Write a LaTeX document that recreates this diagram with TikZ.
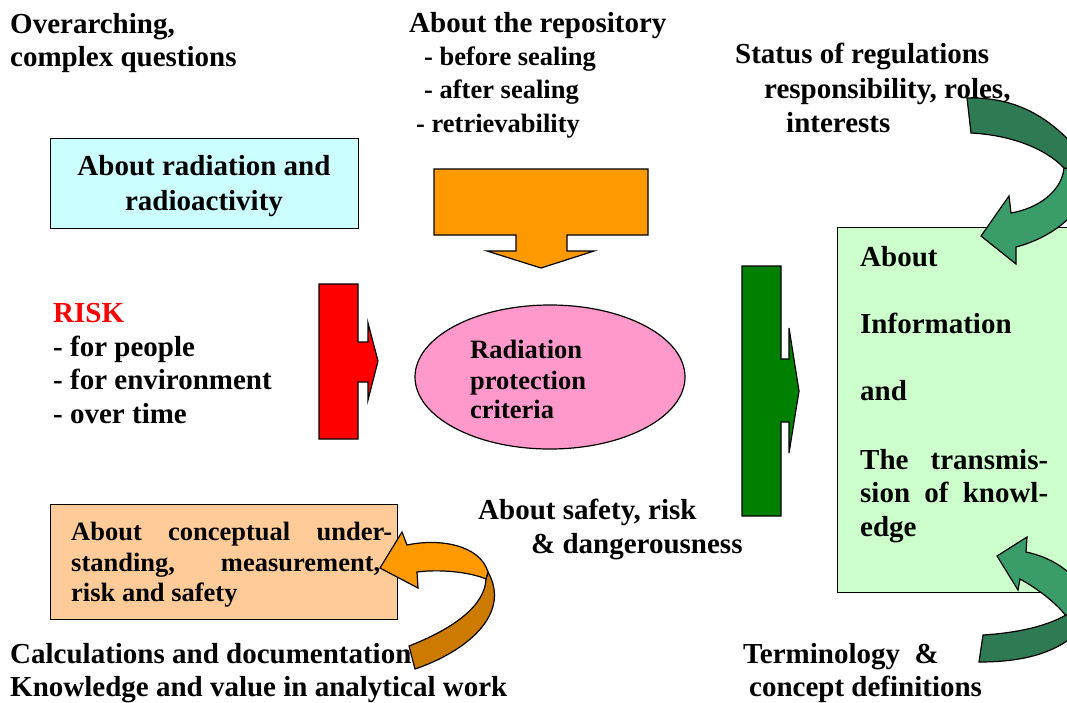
\documentclass[tikz,border=0pt]{standalone}
\usepackage{fontspec}
\setmainfont{Liberation Serif}
\usetikzlibrary{shapes.geometric}
\definecolor{cyanbox}{HTML}{CCFFFF}
\definecolor{greenbox}{HTML}{CCFFCC}
\definecolor{peach}{HTML}{FFCC99}
\definecolor{pinkel}{HTML}{FF99CC}
\definecolor{orangeA}{HTML}{FF9900}
\definecolor{orangeB}{HTML}{CC7A00}
\definecolor{greenA}{HTML}{008000}
\definecolor{tealA}{HTML}{3A9C68}
\definecolor{tealB}{HTML}{2E7B53}
\begin{document}
\begin{tikzpicture}[x=1pt,y=-1pt,
  big/.style={font=\fontsize{29}{33.5}\selectfont\bfseries, anchor=base west, inner sep=0pt},
  mid/.style={font=\fontsize{26.5}{30}\selectfont\bfseries, anchor=base west, inner sep=0pt},
  boxed/.style={draw=black, line width=1.2pt, inner sep=0pt, anchor=north west},
  blockshape/.style={draw=black, line width=1.2pt, line join=miter}]
\useasboundingbox (0,0) rectangle (1067,702);
\clip (0,0) rectangle (1067,702);

% boxes
\node[boxed, fill=cyanbox, minimum width=308pt, minimum height=90pt] (rad) at (50,138) {};
\node[boxed, fill=greenbox, minimum width=260pt, minimum height=365pt] (info) at (837,227) {};
\node[boxed, fill=peach, minimum width=347pt, minimum height=115pt] (concept) at (50,504) {};
\node[draw=black, line width=1.2pt, ellipse, fill=pinkel, minimum width=270pt, minimum height=144pt, inner sep=0pt] (crit) at (550,377) {};

% block arrows
\filldraw[blockshape, fill=orangeA] (434,169) -- (648,169) -- (648,235) -- (567,235) -- (567,251) -- (594,251) -- (541,268) -- (487,251) -- (516,251) -- (516,235) -- (434,235) -- cycle;
\filldraw[blockshape, fill=red] (319,284) -- (358,284) -- (358,342) -- (368,342) -- (368,323) -- (378,361) -- (368,400) -- (368,382) -- (358,382) -- (358,439) -- (319,439) -- cycle;
\filldraw[blockshape, fill=greenA] (742,266) -- (781,266) -- (781,359) -- (789,359) -- (789,328) -- (799,391) -- (789,453) -- (789,422) -- (781,422) -- (781,516) -- (742,516) -- cycle;

% curved arrow top right
\filldraw[blockshape, fill=tealA] (1064,168) .. controls (1062,190) and (1040,208) .. (1011,213) -- (1009,196) -- (981,236) -- (1016,264) -- (1016,247) .. controls (1050,238) and (1085,215) .. (1095,172) -- cycle;
\filldraw[blockshape, fill=tealB] (967,98) .. controls (1015,97) and (1055,115) .. (1095,172) -- (1064,168) .. controls (1045,148) and (1010,135) .. (971,133) -- cycle;

% curved arrow bottom right
\filldraw[blockshape, fill=tealA] (1026,552) -- (1027,537) -- (997,556) -- (1018,590) -- (1020,579) .. controls (1040,590) and (1058,605) .. (1066,616) -- (1095,610) .. controls (1080,575) and (1055,558) .. (1026,552) -- cycle;
\filldraw[blockshape, fill=tealB] (983,635) .. controls (1015,633) and (1045,627) .. (1066,615) -- (1095,610) .. controls (1075,645) and (1040,662) .. (979,662) -- cycle;

% curved arrow bottom left
\filldraw[blockshape, fill=orangeB] (486,579) .. controls (485,605) and (455,628) .. (409,646) -- (415,669) .. controls (465,652) and (512,615) .. (488,572) -- cycle;
\filldraw[blockshape, fill=orangeA] (407,545) .. controls (440,538) and (480,545) .. (488,572) -- (486,579) .. controls (470,572) and (440,569) .. (417,572) -- (418,588) -- (380,568) -- (402,532) -- cycle;

% texts
\node[big] (t1a) at (10,33) {Overarching,};
\node[big] (t1b) at (10,66) {complex questions};

\node[big] (t2a) at (409,32) {About the repository};
\node[mid] (t2b) at (424,65) {- before sealing};
\node[mid] (t2c) at (424,98) {- after sealing};
\node[mid] (t2d) at (416,132) {- retrievability};

\node[big] (t3a) at (735,63) {Status of regulations};
\node[big] (t3b) at (764,98) {responsibility, roles,};
\node[big] (t3c) at (786,132) {interests};

\node[big, anchor=base] (t4a) at (204,175) {About radiation and};
\node[big, anchor=base] (t4b) at (204,210) {radioactivity};

\node[big, text=red] (t5a) at (53,322) {RISK};
\node[big] (t5b) at (53,356) {- for people};
\node[big] (t5c) at (53,389) {- for environment};
\node[big] (t5d) at (53,423) {- over time};

\node[mid] (t6a) at (470,358) {Radiation};
\node[mid] (t6b) at (470,389) {protection};
\node[mid] (t6c) at (470,418) {criteria};

\node[big] (t7a) at (860,266) {About};
\node[big] (t7b) at (860,333) {Information};
\node[big] (t7c) at (860,400) {and};
\node[big] (t7d) at (860,469) {\makebox[188pt][s]{The transmis-}};
\node[big] (t7e) at (860,502) {\makebox[188pt][s]{sion of knowl-}};
\node[big] (t7f) at (860,536) {edge};

\node[big] (t8a) at (478,519) {About safety, risk};
\node[big] (t8b) at (531,553) {\& dangerousness};

\node[mid] (t9a) at (71,540) {\makebox[321pt][s]{About conceptual under-}};
\node[mid] (t9b) at (71,571) {\makebox[309pt][s]{standing, measurement,}};
\node[mid] (t9c) at (71,601) {risk and safety};

\node[big] (t10a) at (10,663) {Calculations and documentation};
\node[big] (t10b) at (10,696) {Knowledge and value in analytical work};

\node[big] (t11a) at (743,663) {Terminology\ \ \&};
\node[big] (t11b) at (749,696) {concept definitions};
\end{tikzpicture}
\end{document}
